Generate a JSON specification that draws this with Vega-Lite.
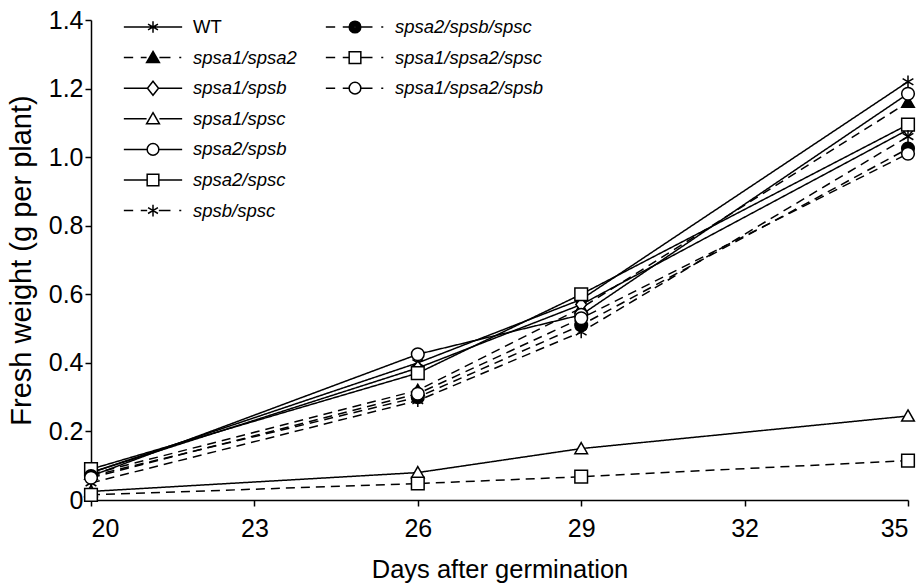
{
  "$schema": "https://vega.github.io/schema/vega-lite/v6.json",
  "width": 817,
  "height": 480,
  "autosize": {"type": "none"},
  "padding": {"left": 91, "top": 20, "right": 13, "bottom": 86},
  "background": "white",
  "config": {
    "view": {"stroke": null},
    "font": "Liberation Sans",
    "axis": {
      "grid": false,
      "domainColor": "black",
      "domainWidth": 1.5,
      "tickColor": "black",
      "tickWidth": 1.5,
      "tickSize": 6,
      "labelColor": "black",
      "labelFont": "Liberation Sans",
      "labelFontSize": 25,
      "titleFont": "Liberation Sans",
      "titleFontSize": 25.5,
      "titleFontWeight": "normal",
      "titleColor": "black"
    }
  },
  "data": {"values": [
    {"s": "WT", "day": 20, "w": 0.08}, {"s": "WT", "day": 26, "w": 0.40}, {"s": "WT", "day": 29, "w": 0.585}, {"s": "WT", "day": 35, "w": 1.22},
    {"s": "spsa1/spsa2", "day": 20, "w": 0.075}, {"s": "spsa1/spsa2", "day": 26, "w": 0.32}, {"s": "spsa1/spsa2", "day": 29, "w": 0.56}, {"s": "spsa1/spsa2", "day": 35, "w": 1.16},
    {"s": "spsa1/spsb", "day": 20, "w": 0.08}, {"s": "spsa1/spsb", "day": 26, "w": 0.385}, {"s": "spsa1/spsb", "day": 29, "w": 0.57}, {"s": "spsa1/spsb", "day": 35, "w": 1.08},
    {"s": "spsa1/spsc", "day": 20, "w": 0.025}, {"s": "spsa1/spsc", "day": 26, "w": 0.08}, {"s": "spsa1/spsc", "day": 29, "w": 0.15}, {"s": "spsa1/spsc", "day": 35, "w": 0.245},
    {"s": "spsa2/spsb", "day": 20, "w": 0.07}, {"s": "spsa2/spsb", "day": 26, "w": 0.425}, {"s": "spsa2/spsb", "day": 29, "w": 0.54}, {"s": "spsa2/spsb", "day": 35, "w": 1.185},
    {"s": "spsa2/spsc", "day": 20, "w": 0.09}, {"s": "spsa2/spsc", "day": 26, "w": 0.37}, {"s": "spsa2/spsc", "day": 29, "w": 0.60}, {"s": "spsa2/spsc", "day": 35, "w": 1.095},
    {"s": "spsb/spsc", "day": 20, "w": 0.05}, {"s": "spsb/spsc", "day": 26, "w": 0.29}, {"s": "spsb/spsc", "day": 29, "w": 0.49}, {"s": "spsb/spsc", "day": 35, "w": 1.06},
    {"s": "spsa2/spsb/spsc", "day": 20, "w": 0.07}, {"s": "spsa2/spsb/spsc", "day": 26, "w": 0.30}, {"s": "spsa2/spsb/spsc", "day": 29, "w": 0.51}, {"s": "spsa2/spsb/spsc", "day": 35, "w": 1.025},
    {"s": "spsa1/spsa2/spsc", "day": 20, "w": 0.015}, {"s": "spsa1/spsa2/spsc", "day": 26, "w": 0.048}, {"s": "spsa1/spsa2/spsc", "day": 29, "w": 0.068}, {"s": "spsa1/spsa2/spsc", "day": 35, "w": 0.115},
    {"s": "spsa1/spsa2/spsb", "day": 20, "w": 0.065}, {"s": "spsa1/spsa2/spsb", "day": 26, "w": 0.31}, {"s": "spsa1/spsa2/spsb", "day": 29, "w": 0.53}, {"s": "spsa1/spsa2/spsb", "day": 35, "w": 1.01}
  ]},
  "encoding": {
    "x": {"field": "day", "type": "quantitative", "scale": {"domain": [20, 35], "nice": false, "zero": false},
      "axis": {"values": [20, 23, 26, 29, 32, 35], "title": "Days after germination", "titlePadding": 16, "labelPadding": 10}},
    "y": {"field": "w", "type": "quantitative", "scale": {"domain": [0, 1.4], "nice": false},
      "axis": {"values": [0, 0.2, 0.4, 0.6, 0.8, 1.0, 1.2, 1.4], "labelExpr": "datum.value == 0 ? '0' : format(datum.value, '.1f')", "title": "Fresh weight (g per plant)", "titleFontSize": 29, "titlePadding": 12, "labelPadding": 2}}
  },
  "layer": [
    {
      "mark": {"type": "line", "color": "black", "strokeWidth": 1.5},
      "encoding": {
        "strokeDash": {"field": "s", "type": "nominal", "legend": null,
          "scale": {"domain": ["WT", "spsa1/spsa2", "spsa1/spsb", "spsa1/spsc", "spsa2/spsb", "spsa2/spsc", "spsb/spsc", "spsa2/spsb/spsc", "spsa1/spsa2/spsc", "spsa1/spsa2/spsb"],
            "range": [[1, 0], [9, 6], [1, 0], [1, 0], [1, 0], [1, 0], [9, 6], [9, 6], [9, 6], [9, 6]]}}
      }
    },
    {
      "mark": {"type": "point", "filled": false, "stroke": "black", "strokeWidth": 1.5, "opacity": 1, "size": 160},
      "encoding": {
        "shape": {"field": "s", "type": "nominal", "legend": null,
          "scale": {"domain": ["WT", "spsa1/spsa2", "spsa1/spsb", "spsa1/spsc", "spsa2/spsb", "spsa2/spsc", "spsb/spsc", "spsa2/spsb/spsc", "spsa1/spsa2/spsc", "spsa1/spsa2/spsb"],
            "range": [
              "M0,-1V1M-0.85,-0.5L0.85,0.5M-0.85,0.5L0.85,-0.5",
              "M0,-0.95L1,0.8L-1,0.8Z",
              "M0,-1.1L0.85,0L0,1.1L-0.85,0Z",
              "M0,-0.95L1,0.8L-1,0.8Z",
              "circle",
              "M-1,-1H1V1H-1Z",
              "M0,-1V1M-0.85,-0.5L0.85,0.5M-0.85,0.5L0.85,-0.5",
              "circle",
              "M-1,-1H1V1H-1Z",
              "circle"
            ]}},
        "fill": {"field": "s", "type": "nominal", "legend": null,
          "scale": {"domain": ["WT", "spsa1/spsa2", "spsa1/spsb", "spsa1/spsc", "spsa2/spsb", "spsa2/spsc", "spsb/spsc", "spsa2/spsb/spsc", "spsa1/spsa2/spsc", "spsa1/spsa2/spsb"],
            "range": ["white", "black", "white", "white", "white", "white", "white", "black", "white", "white"]}}
      }
    },
    {
      "transform": [{"filter": {"field": "s", "oneOf": ["WT"]}}],
      "mark": {"type": "point", "filled": false, "stroke": "black", "opacity": 0, "size": 10},
      "encoding": {
        "shape": {"field": "s", "type": "nominal",
          "scale": {"domain": ["WT"],
            "range": ["M-1,0H1M0,-0.2V0.2M-0.17,-0.1L0.17,0.1M-0.17,0.1L0.17,-0.1"]},
          "legend": {
            "title": null, "orient": "none", "legendX": 32, "legendY": -8, "padding": 0,
            "symbolSize": 3400, "symbolStrokeWidth": 1.5, "symbolStrokeColor": "black", "symbolFillColor": "white", "symbolOpacity": 1,
            "clipHeight": 30, "rowPadding": 0.6, "labelOffset": 10,
            "labelFont": "Liberation Sans", "labelFontSize": 18.5, "labelColor": "black", "labelLimit": 300,
            "labelFontStyle": "normal"
          }}
      }
    },
    {
      "transform": [{"filter": {"field": "s", "oneOf": ["spsa1/spsa2", "spsa1/spsb", "spsa1/spsc", "spsa2/spsb", "spsa2/spsc", "spsb/spsc"]}}],
      "mark": {"type": "point", "filled": false, "stroke": "black", "opacity": 0, "size": 10},
      "encoding": {
        "shape": {"field": "s", "type": "nominal",
          "scale": {"domain": ["spsa1/spsa2", "spsa1/spsb", "spsa1/spsc", "spsa2/spsb", "spsa2/spsc", "spsb/spsc"],
            "range": [
              "M-1,0H-0.68M-0.42,0H-0.22M0.22,0H0.6M0.9,0H0.97M0,-0.21L0.22,0.17L-0.22,0.17ZM0,-0.159L0.176,0.145L-0.176,0.145ZM0,-0.109L0.132,0.119L-0.132,0.119ZM0,-0.058L0.088,0.094L-0.088,0.094ZM0,-0.008L0.044,0.068L-0.044,0.068Z",
              "M-1,0H-0.2M0.2,0H1M0,-0.24L0.19,0L0,0.24L-0.19,0Z",
              "M-1,0H-0.22M0.22,0H1M0,-0.21L0.22,0.17L-0.22,0.17Z",
              "M-1,0H-0.2M0.2,0H1M0.2,0A0.2,0.2 0 1,1 -0.2,0A0.2,0.2 0 1,1 0.2,0Z",
              "M-1,0H-0.2M0.2,0H1M-0.2,-0.2H0.2V0.2H-0.2Z",
              "M-1,0H-0.68M-0.42,0H-0.2M0.2,0H0.6M0.9,0H0.97M0,-0.2V0.2M-0.17,-0.1L0.17,0.1M-0.17,0.1L0.17,-0.1"
            ]},
          "legend": {
            "title": null, "orient": "none", "legendX": 32, "legendY": 22.6, "padding": 0,
            "symbolSize": 3400, "symbolStrokeWidth": 1.5, "symbolStrokeColor": "black", "symbolFillColor": "white", "symbolOpacity": 1,
            "clipHeight": 30, "rowPadding": 0.6, "labelOffset": 10,
            "labelFont": "Liberation Sans", "labelFontSize": 18.5, "labelColor": "black", "labelLimit": 300,
            "labelFontStyle": "italic"
          }}
      }
    },
    {
      "transform": [{"filter": {"field": "s", "oneOf": ["spsa2/spsb/spsc", "spsa1/spsa2/spsc", "spsa1/spsa2/spsb"]}}],
      "mark": {"type": "point", "filled": false, "stroke": "black", "opacity": 0, "size": 10},
      "encoding": {
        "shape": {"field": "s", "type": "nominal",
          "scale": {"domain": ["spsa2/spsb/spsc", "spsa1/spsa2/spsc", "spsa1/spsa2/spsb"],
            "range": [
              "M-1,0H-0.68M-0.42,0H-0.2M0.2,0H0.6M0.9,0H0.97M0.2,0A0.2,0.2 0 1,1 -0.2,0A0.2,0.2 0 1,1 0.2,0ZM0.16,0A0.16,0.16 0 1,1 -0.16,0A0.16,0.16 0 1,1 0.16,0ZM0.12,0A0.12,0.12 0 1,1 -0.12,0A0.12,0.12 0 1,1 0.12,0ZM0.08,0A0.08,0.08 0 1,1 -0.08,0A0.08,0.08 0 1,1 0.08,0ZM0.04,0A0.04,0.04 0 1,1 -0.04,0A0.04,0.04 0 1,1 0.04,0ZM0.015,0A0.015,0.015 0 1,1 -0.015,0A0.015,0.015 0 1,1 0.015,0Z",
              "M-1,0H-0.68M-0.42,0H-0.2M0.2,0H0.6M0.9,0H0.97M-0.2,-0.2H0.2V0.2H-0.2Z",
              "M-1,0H-0.68M-0.42,0H-0.2M0.2,0H0.6M0.9,0H0.97M0.2,0A0.2,0.2 0 1,1 -0.2,0A0.2,0.2 0 1,1 0.2,0Z"
            ]},
          "legend": {
            "title": null, "orient": "none", "legendX": 234, "legendY": -8, "padding": 0,
            "symbolSize": 3400, "symbolStrokeWidth": 1.5, "symbolStrokeColor": "black", "symbolFillColor": "white", "symbolOpacity": 1,
            "clipHeight": 30, "rowPadding": 0.6, "labelOffset": 10,
            "labelFont": "Liberation Sans", "labelFontSize": 18.5, "labelColor": "black", "labelLimit": 300,
            "labelFontStyle": "italic"
          }}
      }
    }
  ],
  "resolve": {"scale": {"shape": "independent"}, "legend": {"shape": "independent"}}
}
